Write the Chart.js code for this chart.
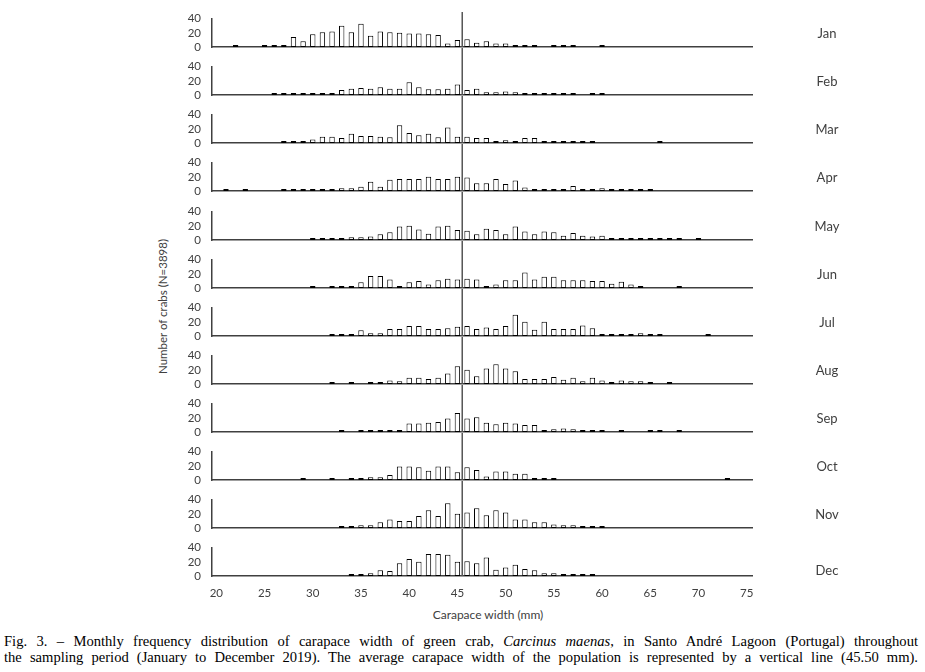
<!DOCTYPE html>
<html>
<head>
<meta charset="utf-8">
<script src="https://cdn.jsdelivr.net/npm/chart.js@4.4.0/dist/chart.umd.min.js"></script>
<style>
    body { margin: 0; background: #fff; }
    #wrap { position: relative; width: 925px; height: 672px; overflow: hidden; background: #fff; }
    #wrap canvas { position: absolute; left: 0; }
    .ytitle { position: absolute; width: 220px; left: 52px; top: 300px; text-align: center;
              font: 11.5px Lato, sans-serif; color: #404040; transform: rotate(-90deg); white-space: nowrap; }
    .xtitle { position: absolute; width: 200px; left: 388px; top: 607px; text-align: center;
              font: 12px Lato, sans-serif; color: #404040; white-space: nowrap; }
    .caption { position: absolute; left: 4px; width: 914px; font: 14.6px "Liberation Serif", "Times New Roman", serif;
               color: #000; line-height: 16px; white-space: nowrap; text-align: justify; text-align-last: justify; }
</style>
</head>
<body>
<div id="wrap">
    <div class="ytitle">Number of crabs (N=3898)</div>
    <div class="xtitle">Carapace width (mm)</div>
    <div class="caption" style="top:633px">Fig. 3. &ndash; Monthly frequency distribution of carapace width of green crab, <i>Carcinus maenas</i>, in Santo Andr&eacute; Lagoon (Portugal) throughout</div>
    <div class="caption" style="top:649px">the sampling period (January to December 2019). The average carapace width of the population is represented by a vertical line (45.50 mm).</div>
</div>
<script>
// carapace width classes (mm), 20 .. 75
const widths = [];
for (let w = 20; w <= 75; w++) widths.push(w);

const months = ["Jan", "Feb", "Mar", "Apr", "May", "Jun", "Jul", "Aug", "Sep", "Oct", "Nov", "Dec"];
const meanWidth = 45.5;
const yTicks = [0, 20, 40];
const xTicks = [20, 25, 30, 35, 40, 45, 50, 55, 60, 65, 70, 75];

// number of crabs per width class, one list per month (20..75 mm)
const jan = [0,0,1,0,0, 1,1,1,14,8, 18,21,22,30,21, 33,16,22,21,20, 19,19,18,17,5, 10,11,6,8,5, 5,1,1,1,0, 2,3,1,0,0, 1,0,0,0,0, 0,0,0,0,0, 0,0,0,0,0, 0];
const feb = [0,0,0,0,0, 0,1,1,1,1, 2,3,3,7,9, 10,9,11,9,9, 18,11,8,8,9, 15,7,9,4,4, 5,4,2,1,2, 2,1,1,0,1, 1,0,0,0,0, 0,0,0,0,0, 0,0,0,0,0, 0];
const mar = [0,0,0,0,0, 0,0,1,1,1, 5,9,9,7,13, 10,10,9,8,25, 14,11,13,8,22, 9,9,7,7,3, 4,1,7,7,3, 3,3,2,1,1, 0,0,0,0,0, 0,1,0,0,0, 0,0,0,0,0, 0];
const apr = [0,1,0,1,0, 0,0,1,1,1, 3,1,3,4,4, 6,13,6,16,17, 17,17,20,17,17, 20,19,11,11,17, 10,15,5,3,3, 3,3,7,1,2, 4,1,2,3,2, 1,0,0,0,0, 0,0,0,0,0, 0];
const may = [0,0,0,0,0, 0,0,0,0,0, 1,1,3,3,4, 4,5,8,11,19, 20,15,9,19,20, 14,13,8,16,14, 8,19,12,8,12, 11,6,10,6,5, 6,3,2,1,1, 1,1,1,1,0, 1,0,0,0,0, 0];
const jun = [0,0,0,0,0, 0,0,0,0,0, 1,0,1,1,3, 8,17,17,12,3, 8,10,5,11,13, 12,13,12,2,5, 11,11,22,12,16, 16,11,11,11,10, 10,6,9,5,3, 0,0,0,1,0, 0,0,0,0,0, 0];
const jul = [0,0,0,0,0, 0,0,0,0,0, 0,0,1,1,3, 8,4,4,10,10, 14,14,10,10,11, 13,14,10,12,10, 14,30,20,9,20, 10,10,10,15,11, 2,3,3,3,4, 1,1,0,0,0, 0,1,0,0,0, 0];
const aug = [0,0,0,0,0, 0,0,0,0,0, 0,0,1,0,1, 0,2,3,5,4, 9,9,7,9,15, 25,20,11,22,28, 22,18,7,7,7, 10,6,9,4,9, 5,3,5,4,4, 2,0,1,0,0, 0,0,0,0,0, 0];
const sep = [0,0,0,0,0, 0,0,0,0,0, 0,0,0,1,0, 1,1,2,2,3, 12,12,13,14,19, 27,19,21,13,11, 13,12,10,10,3, 4,5,4,3,3, 1,0,1,0,0, 1,1,0,1,0, 0,0,0,0,0, 0];
const oct = [0,0,0,0,0, 0,0,0,0,1, 0,0,1,0,1, 2,4,4,7,19, 19,18,13,19,19, 11,18,14,5,12, 12,9,9,3,2, 1,0,0,0,0, 0,0,0,0,0, 0,0,0,0,0, 0,0,0,1,0, 0];
const nov = [0,0,0,0,0, 0,0,0,0,0, 0,0,0,1,1, 4,4,8,12,10, 10,17,25,17,35, 20,22,28,18,25, 22,12,12,8,8, 5,4,4,3,2, 2,0,0,0,0, 0,0,0,0,0, 0,0,0,0,0, 0];
const dec = [0,0,0,0,0, 0,0,0,0,0, 0,0,0,0,2, 2,4,8,7,18, 24,20,31,31,30, 20,21,18,26,9, 12,16,10,8,4, 4,2,2,3,2, 0,0,0,0,0, 0,0,0,0,0, 0,0,0,0,0, 0];

const counts = [jan, feb, mar, apr, may, jun, jul, aug, sep, oct, nov, dec];

const axisColor = "#404040";
const textColor = "#404040";
Chart.defaults.font.family = "Lato";

// vertical line for the mean width, plus the month name on the right
const panelExtras = {
    id: "panelExtras",
    afterDraw(chart, args, opts) {
        const ctx = chart.ctx;
        const x = chart.scales.x.getPixelForValue(meanWidth);
        const area = chart.chartArea;
        ctx.save();
        ctx.strokeStyle = "#555";
        ctx.lineWidth = 1.5;
        ctx.beginPath();
        ctx.moveTo(x, opts.first ? 12 : 0);
        ctx.lineTo(x, area.bottom);
        ctx.stroke();

        ctx.fillStyle = textColor;
        ctx.font = "13px Lato";
        ctx.textAlign = "center";
        ctx.textBaseline = "middle";
        ctx.fillText(opts.month, area.right + 75, area.bottom + (opts.last ? -5 : -13));
        ctx.restore();
    }
};

const wrap = document.getElementById("wrap");
let prevBase = -1;

for (let i = 0; i < months.length; i++) {
    const last = i === months.length - 1;
    const base = Math.round(47.3 + 48.06 * i);
    const top = prevBase + 1;
    // canvases are transparent, so the strip below the axis may overlap the next panel
    const xh = last ? 32 : 9;
    const h = base - top + xh;
    prevBase = base;

    const canvas = document.createElement("canvas");
    canvas.width = 925;
    canvas.height = h;
    canvas.style.top = top + "px";
    canvas.style.width = "925px";
    canvas.style.height = h + "px";
    wrap.appendChild(canvas);

    new Chart(canvas.getContext("2d"), {
        type: "bar",
        data: {
            labels: widths,
            datasets: [{
                label: months[i],
                data: counts[i].map(v => v === 0 ? null : v),
                backgroundColor: "#fff",
                borderColor: "#000",
                borderWidth: 1,
                borderSkipped: false,
                minBarLength: 2,
                barPercentage: 0.56,
                categoryPercentage: 1
            }]
        },
        options: {
            responsive: false,
            animation: false,
            devicePixelRatio: 1,
            layout: {
                autoPadding: false,
                padding: { left: 172, right: 173, top: base - top - 28.3, bottom: 0 }
            },
            plugins: {
                legend: { display: false },
                tooltip: { enabled: false },
                panelExtras: { month: months[i], first: i === 0, last: last }
            },
            scales: {
                x: {
                    type: "linear",
                    offset: false,
                    min: 19.55,
                    max: 75.55,
                    grid: { display: false, drawTicks: false, offset: false },
                    border: { display: true, color: axisColor, width: 1.5 },
                    afterBuildTicks: s => { s.ticks = xTicks.map(v => ({ value: v })); },
                    ticks: {
                        display: last,
                        padding: 10,
                        color: textColor,
                        font: { size: 11.5 },
                        maxRotation: 0,
                        autoSkip: false
                    },
                    afterFit: s => { s.height = xh; s.paddingLeft = 0; s.paddingRight = 0; }
                },
                y: {
                    min: 0,
                    max: 40,
                    grid: { display: false, drawTicks: false },
                    border: { display: true, color: axisColor, width: 1.5 },
                    afterBuildTicks: s => { s.ticks = yTicks.map(v => ({ value: v })); },
                    ticks: {
                        padding: 11,
                        color: textColor,
                        font: { size: 11.5 },
                        autoSkip: false
                    },
                    afterFit: s => { s.width = 40; s.paddingTop = 0; s.paddingBottom = 0; }
                }
            }
        },
        plugins: [panelExtras]
    });
}
</script>
</body>
</html>
